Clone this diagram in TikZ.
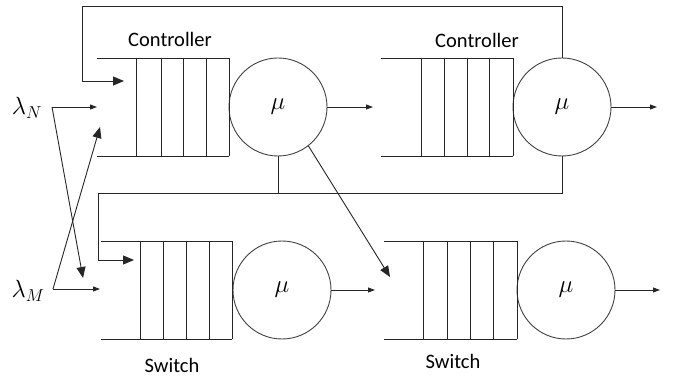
\documentclass[tikz,border=0pt]{standalone}
\usepackage{fontspec}
\setmainfont{Carlito}
\usetikzlibrary{arrows.meta}
\begin{document}
\begin{tikzpicture}[x=1pt,y=-1pt,line width=0.9pt,
  srv/.style={circle,draw=black!75,minimum size=98pt,inner sep=0pt,font=\fontsize{24}{24}\selectfont},
  qline/.style={draw=black!85},
  wire/.style={draw=black!85},
  bigarr/.style={-{Triangle[length=11pt,width=9pt]}},
  smallarr/.style={-{Triangle[length=7pt,width=5pt]}},
  lbl/.style={font=\fontsize{20.5}{21}\selectfont},
  lam/.style={font=\fontsize{25}{25}\selectfont,inner sep=0pt}]
\useasboundingbox (0,0) rectangle (681,377);

% servers
\node[srv] (c1) at (278,107) {$\mu$};
\node[srv] (c2) at (562,107) {$\mu$};
\node[srv] (s1) at (282,290) {$\mu$};
\node[srv] (s2) at (566,290) {$\mu$};

% queues
\draw[qline] (97,58) -- (229,58) (97,156) -- (229,156);
\foreach \x in {136,161,183,206,229} \draw[qline] (\x,58) -- (\x,156);
\draw[qline] (381,58) -- (513,58) (381,156) -- (513,156);
\foreach \x in {421,444,467,489,513} \draw[qline] (\x,58) -- (\x,156);
\draw[qline] (101,241) -- (232,241) (101,339) -- (232,339);
\foreach \x in {140,163,186,209,232} \draw[qline] (\x,241) -- (\x,339);
\draw[qline] (384,241) -- (517,241) (384,339) -- (517,339);
\foreach \x in {423,447,470,493,517} \draw[qline] (\x,241) -- (\x,339);

% labels
\node[lbl] (t1) at (170,39) {Controller};
\node[lbl] (t2) at (477,40) {Controller};
\node[lbl] (t3) at (172,365) {Switch};
\node[lbl] (t4) at (453,361) {Switch};

% arrival labels
\node[lam] (lN) at (27,108) {$\lambda_N$};
\node[lam] (lM) at (28,291) {$\lambda_M$};

% coordinates
\coordinate (aN) at (52,107);
\coordinate (aM) at (53,289);
\coordinate (qN) at (97,107);
\coordinate (qNup) at (100,127);
\coordinate (qM) at (100,289);
\coordinate (qMdn) at (83,278);
\coordinate (fb1) at (124,81);
\coordinate (fb2) at (134,260);
\coordinate (o1) at (373,107);
\coordinate (o2) at (657,107);
\coordinate (o3) at (375,290);
\coordinate (o4) at (660,290);
\coordinate (d1) at (390,277);

% arrivals
\draw[wire,smallarr] (aN) -- (qN);
\draw[wire,bigarr] (aN) -- (qMdn);
\draw[wire,smallarr] (aM) -- (qM);
\draw[wire,bigarr] (aM) -- (qNup);

% outputs
\draw[wire,smallarr] (c1.east) -- (o1);
\draw[wire,smallarr] (c2.east) -- (o2);
\draw[wire,smallarr] (s1.east) -- (o3);
\draw[wire,smallarr] (s2.east) -- (o4);

% top feedback
\draw[wire,bigarr] (c2.north) -- (562,6) -- (82,6) -- (82,81) -- (fb1);

% lower feedback
\draw[wire] (c1.south) -- (278,193);
\draw[wire,bigarr] (c2.south) -- (562,193) -- (98,193) -- (98,260) -- (fb2);

% diagonal
\draw[wire,bigarr] (c1.-52) -- (d1);
\end{tikzpicture}
\end{document}
